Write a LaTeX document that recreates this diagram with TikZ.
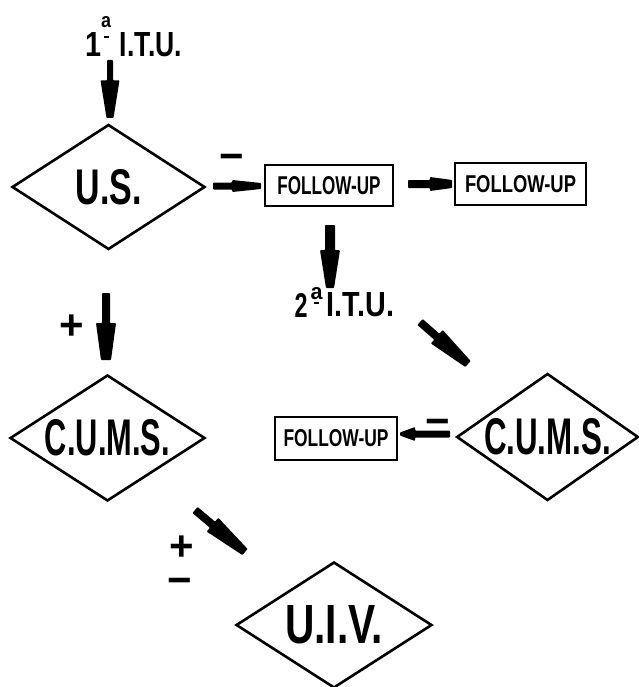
\documentclass[tikz,border=0pt]{standalone}
\usepackage{fontspec}
\setmainfont{Liberation Sans}
\usetikzlibrary{shapes.geometric,calc}

\newcommand\fitxt[3]{\resizebox{#1pt}{#2pt}{\bfseries #3}}
\newcommand\signtxt[1]{\scalebox{1.5}{\fontsize{28}{28}\selectfont\bfseries #1}}

% fat tapered arrow: from, to, shaft fraction, shaft half, cone half, tip half
\newcommand\fatarrow[6]{%
  \coordinate (fa-s) at ($(#1)!#3!(#2)$);
  \fill[fatarr] ($(#1)!#4pt!90:(#2)$) -- ($(fa-s)!#4pt!90:(#2)$) -- ($(fa-s)!#5pt!90:(#2)$)
    -- ($(#2)!#6pt!-90:(#1)$) -- ($(#2)!#6pt!90:(#1)$) -- ($(fa-s)!#5pt!-90:(#2)$)
    -- ($(fa-s)!#4pt!-90:(#2)$) -- ($(#1)!#4pt!-90:(#2)$) -- cycle;
}

\tikzset{
  dia/.style={diamond, draw, line width=2.6pt, inner sep=0pt, aspect=1.5},
  fubox/.style={rectangle, draw, line width=2.6pt, inner sep=0pt},
  txt/.style={inner sep=0pt},
  sign/.style={inner sep=0pt},
  fatarr/.style={fill=black, rounded corners=0.8pt},
}

\begin{document}
\begin{tikzpicture}[x=1pt,y=-1pt]
\useasboundingbox (0,0) rectangle (638,687);

% top label
\node[txt] (one) at (93.5,45) {\fitxt{16}{24}{1}};
\node[txt] (ord1) at (106,22.5) {\fitxt{10}{11}{a}};
\draw[line width=2pt] ($(ord1.south)+(-2.5,8.5)$) -- ($(ord1.south)+(2.5,8.5)$);
\node[txt] (itu1) at (151,45) {\fitxt{62}{24}{I.T.U.}};

% diamonds
\node[dia, minimum width=193pt, minimum height=125pt] (us) at (108.5,187) {\fitxt{66}{35}{U.S.}};
\node[dia, minimum width=195pt, minimum height=126pt] (cumsL) at (107.5,438) {\fitxt{125}{36}{C.U.M.S.}};
\node[dia, minimum width=181pt, minimum height=127pt] (cumsR) at (547.5,437) {\fitxt{127}{36}{C.U.M.S.}};
\node[dia, minimum width=196pt, minimum height=126pt] (uiv) at (334,625) {\fitxt{98}{38}{U.I.V.}};

% follow-up boxes
\node[fubox, minimum width=128pt, minimum height=41pt] (fu1) at (329,185.5) {\fitxt{103}{18}{FOLLOW-UP}};
\node[fubox, minimum width=131pt, minimum height=42pt] (fu2) at (520.5,184) {\fitxt{111}{17}{FOLLOW-UP}};
\node[fubox, minimum width=122pt, minimum height=43pt] (fu3) at (336,438.5) {\fitxt{105}{17}{FOLLOW-UP}};

% second label
\node[txt] (two) at (301,305) {\fitxt{13}{24}{2}};
\node[txt] (ord2) at (316.5,294) {\fitxt{12}{12}{a}};
\draw[line width=2pt] ($(ord2.south)+(-3,3)$) -- ($(ord2.south)+(2,3)$);
\node[txt] (itu2) at (360.5,305) {\fitxt{67}{24}{I.T.U.}};

% signs
\node[sign] (m1) at (232,162) {\signtxt{−}};
\node[sign] (p1) at (71.5,327.5) {\signtxt{+}};
\node[sign] (m2) at (438,427) {\signtxt{−}};
\node[sign] (p2) at (181.5,548) {\signtxt{+}};
\node[sign] (m3) at (180,586) {\signtxt{−}};

% arrow end points
\coordinate (a1s) at (110,60);   \coordinate (a1e) at (110,118);
\coordinate (a2s) at (213,186);  \coordinate (a2e) at (261,186);
\coordinate (a3s) at (408,184);  \coordinate (a3e) at (452,184);
\coordinate (a4s) at (330,225);  \coordinate (a4e) at (330,288);
\coordinate (a5s) at (106,293);  \coordinate (a5e) at (106,360);
\coordinate (a6s) at (420,322);  \coordinate (a6e) at (468,364);
\coordinate (a7s) at (450,434);  \coordinate (a7e) at (400,434);
\coordinate (a8s) at (195,510);  \coordinate (a8e) at (245,552);

\fatarrow{a1s}{a1e}{0.35}{3}{9.5}{3.5}
\fatarrow{a2s}{a2e}{0.4}{3.5}{6}{3}
\fatarrow{a3s}{a3e}{0.5}{4}{7}{4}
\fatarrow{a4s}{a4e}{0.4}{5}{10}{4}
\fatarrow{a5s}{a5e}{0.45}{4}{10}{5}
\fatarrow{a6s}{a6e}{0.35}{4}{9}{4}
\fatarrow{a7s}{a7e}{0.7}{3.5}{7}{1.5}
\fatarrow{a8s}{a8e}{0.35}{4}{9}{4}
\end{tikzpicture}
\end{document}
